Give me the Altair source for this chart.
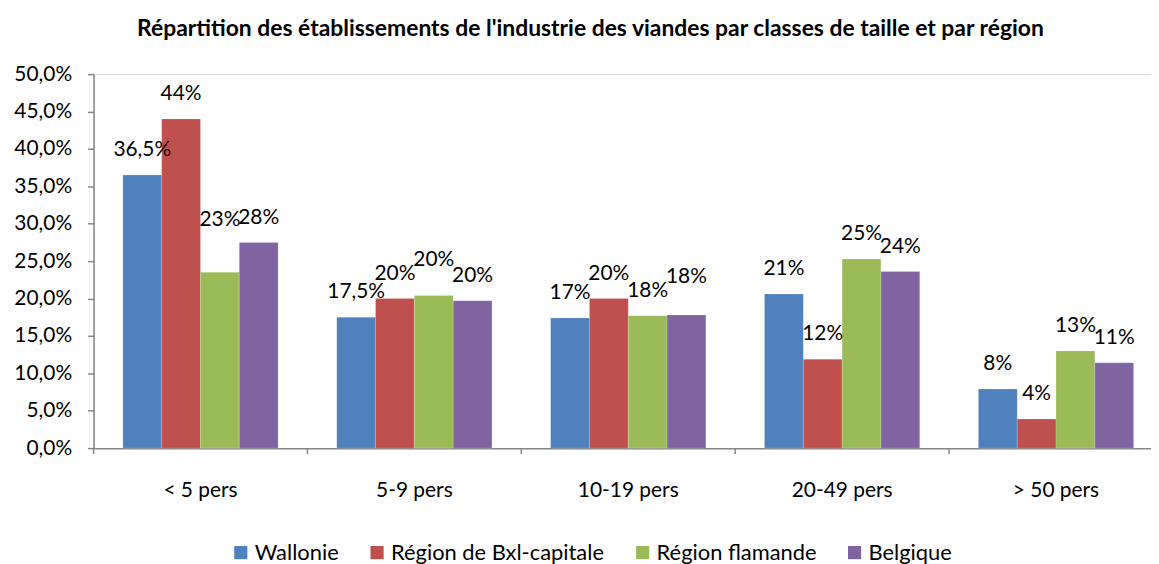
import altair as alt
import pandas as pd

# ---- data ----
categories = ["< 5 pers", "5-9 pers", "10-19 pers", "20-49 pers", "> 50 pers"]
regions = ["Wallonie", "Région de Bxl-capitale", "Région flamande", "Belgique"]

wallonie = [36.5, 17.5, 17.4, 20.6, 7.9]
bxl = [44.0, 20.0, 20.0, 11.9, 3.9]
flamande = [23.5, 20.4, 17.7, 25.3, 13.0]
belgique = [27.5, 19.7, 17.8, 23.6, 11.4]

wallonie_labels = ["36,5%", "17,5%", "17%", "21%", "8%"]
bxl_labels = ["44%", "20%", "20%", "12%", "4%"]
flamande_labels = ["23%", "20%", "18%", "25%", "13%"]
belgique_labels = ["28%", "20%", "18%", "24%", "11%"]

y_ticks = [0, 5, 10, 15, 20, 25, 30, 35, 40, 45, 50]

colors = ["#4F81BD", "#C0504D", "#9BBB59", "#8064A2"]
title_text = "Répartition des établissements de l'industrie des viandes par classes de taille et par région"

# ---- styling ----
FONT = "Lato"
AXIS_GREY = "#868686"
W, H = 1075, 376
LABEL_DY = -25
FS = 21
# labels the original chart had dragged a bit higher (extra pixels)
label_lift = {("< 5 pers", "Région flamande"): 28,
              ("5-9 pers", "Région flamande"): 11,
              ("10-19 pers", "Belgique"): 13}

series = [wallonie, bxl, flamande, belgique]
label_series = [wallonie_labels, bxl_labels, flamande_labels, belgique_labels]
rows = []
for r, vals, labs in zip(regions, series, label_series):
    for c, v, l in zip(categories, vals, labs):
        rows.append({"cat": c, "region": r, "value": v, "label": l,
                     "lift": label_lift.get((c, r), 0)})
df = pd.DataFrame(rows)

x_axis = alt.Axis(ticks=False, tickSize=0, labelPadding=32, labelAngle=0,
                  labelFontSize=FS, labelFont=FONT, labelColor="black",
                  domainColor=AXIS_GREY, domainWidth=1.5)
x_scale = alt.Scale(paddingInner=0, paddingOuter=0)
x_enc = alt.X("cat:N", sort=categories, title=None, scale=x_scale, axis=x_axis)
xoff = alt.XOffset("region:N", sort=regions,
                   scale=alt.Scale(paddingInner=0, paddingOuter=0.756))
y_enc = alt.Y("value:Q", title=None,
              scale=alt.Scale(domain=[0, 50], nice=False),
              axis=alt.Axis(values=y_ticks, tickCount=11, grid=False, tickSize=6,
                            tickColor=AXIS_GREY, tickWidth=1.5, domainColor=AXIS_GREY,
                            domainWidth=1.5, labelPadding=16, labelFontSize=FS,
                            labelFont=FONT, labelColor="black", labelOverlap=False,
                            labelExpr="replace(format(datum.value, '.1f'), '.', ',') + '%'"))

base = alt.Chart(df)

bars = base.mark_bar(stroke="white", strokeOpacity=0.35, strokeWidth=0.5).encode(
    x=x_enc, xOffset=xoff, y=y_enc,
    color=alt.Color("region:N", sort=regions,
                    scale=alt.Scale(domain=regions, range=colors),
                    legend=alt.Legend(title=None, orient="none", direction="horizontal",
                                      legendX=137, legendY=470, symbolType="square",
                                      symbolSize=175, symbolStrokeWidth=0, symbolOpacity=1,
                                      labelFontSize=22, labelFont=FONT, labelColor="black",
                                      labelLimit=0, labelOffset=3, columnPadding=27)),
)

texts = []
for lift in sorted(set(df["lift"])):
    t = base.transform_filter(alt.datum.lift == lift).mark_text(
        dy=LABEL_DY - lift, baseline="middle", align="center",
        fontSize=FS, font=FONT, color="black").encode(
        x=x_enc, xOffset=xoff, y=y_enc, text="label:N")
    texts.append(t)

tick_df = pd.DataFrame({"cat": categories})
ticks_start = alt.Chart(tick_df).mark_rule(color=AXIS_GREY, strokeWidth=1.5).encode(
    x=alt.X("cat:N", sort=categories, bandPosition=0, title=None,
            scale=x_scale, axis=x_axis),
    y=alt.value(H), y2=alt.value(H + 6))

chart = alt.layer(bars, *texts, ticks_start).properties(
    width=W, height=H,
    title=alt.TitleParams(title_text, font=FONT, fontSize=23, fontWeight="bold",
                          color="black", anchor="middle", frame="group",
                          dx=-38, dy=2, baseline="bottom", offset=1),
    autosize=alt.AutoSizeParams(type="none"),
    padding={"left": 86, "top": 65, "right": -12, "bottom": 115},
).configure_view(stroke=None).configure(background="white")

chart.save("out.html", embed_options={"renderer": "svg", "actions": False})
